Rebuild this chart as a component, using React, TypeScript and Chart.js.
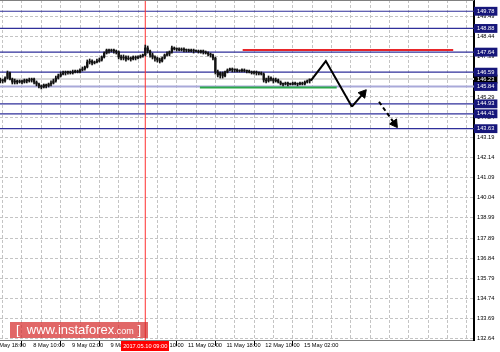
import React, { useEffect, useRef } from "react";
import { Chart, registerables } from "chart.js";

Chart.register(...registerables);

// ---- axis ranges (bar index = hours since 7 May 18:00) ----
const X_MIN = 2.9;
const X_MAX = 199.0;
const Y_MIN = 132.56;
const Y_MAX = 150.37;

// ---- H1 candles, first bar index ----
const FIRST_BAR = 3;
const opens = [
  146.13, 146.18, 146.13, 146.28, 146.55, 146.23, 146.07, 146.13, 146.07, 146.13,
  146.07, 146.18, 146.13, 146.18, 146.23, 146.07, 145.97, 145.87, 145.81, 145.92,
  145.87, 145.97, 146.02, 146.13, 146.28, 146.39, 146.49, 146.55, 146.57, 146.60,
  146.55, 146.60, 146.65, 146.60, 146.70, 146.76, 146.86, 147.12, 147.17, 147.07,
  147.12, 147.17, 147.23, 147.38, 147.59, 147.75, 147.70, 147.75, 147.70, 147.65,
  147.38, 147.33, 147.38, 147.28, 147.33, 147.28, 147.38, 147.33, 147.38, 147.44,
  147.49, 147.86, 147.70, 147.49, 147.38, 147.33, 147.23, 147.17, 147.33, 147.49,
  147.54, 147.65, 147.86, 147.80, 147.79, 147.75, 147.80, 147.75, 147.74, 147.70,
  147.75, 147.70, 147.69, 147.65, 147.70, 147.65, 147.59, 147.54, 147.49, 147.33,
  146.60, 146.44, 146.55, 146.39, 146.60, 146.70, 146.76, 146.70, 146.71, 146.65,
  146.66, 146.70, 146.65, 146.64, 146.60, 146.55, 146.60, 146.55, 146.54, 146.49,
  146.18, 146.13, 146.28, 146.23, 146.13, 146.18, 146.07, 145.97, 145.96, 146.02,
  145.97, 145.95, 146.02, 145.97, 145.96, 146.02, 145.97, 146.07, 146.13,
];
const highs = [
  146.28, 146.23, 146.34, 146.65, 146.60, 146.28, 146.23, 146.18, 146.18, 146.18,
  146.23, 146.23, 146.28, 146.28, 146.28, 146.13, 146.02, 145.92, 145.97, 145.97,
  146.02, 146.13, 146.23, 146.39, 146.49, 146.60, 146.65, 146.65, 146.65, 146.65,
  146.70, 146.70, 146.70, 146.76, 146.86, 146.91, 147.23, 147.28, 147.23, 147.17,
  147.28, 147.33, 147.44, 147.65, 147.80, 147.80, 147.80, 147.80, 147.75, 147.70,
  147.49, 147.49, 147.44, 147.44, 147.38, 147.44, 147.44, 147.44, 147.49, 147.54,
  148.01, 147.96, 147.75, 147.59, 147.44, 147.38, 147.33, 147.38, 147.54, 147.65,
  147.70, 147.96, 147.91, 147.86, 147.86, 147.86, 147.86, 147.80, 147.80, 147.80,
  147.80, 147.75, 147.75, 147.75, 147.75, 147.70, 147.65, 147.59, 147.54, 147.38,
  146.70, 146.60, 146.60, 146.65, 146.76, 146.81, 146.81, 146.76, 146.76, 146.70,
  146.76, 146.76, 146.70, 146.70, 146.65, 146.65, 146.65, 146.60, 146.60, 146.55,
  146.28, 146.39, 146.34, 146.28, 146.28, 146.23, 146.13, 146.02, 146.07, 146.07,
  146.02, 146.07, 146.07, 146.02, 146.07, 146.07, 146.13, 146.18, 146.23,
];
const lows = [
  146.02, 146.02, 146.07, 146.23, 146.18, 145.97, 145.97, 145.97, 146.02, 145.97,
  146.02, 146.02, 146.07, 146.07, 145.97, 145.87, 145.76, 145.71, 145.76, 145.76,
  145.81, 145.87, 145.97, 146.07, 146.23, 146.34, 146.44, 146.44, 146.49, 146.49,
  146.49, 146.55, 146.55, 146.55, 146.65, 146.70, 146.81, 147.02, 146.97, 147.02,
  147.07, 147.12, 147.17, 147.33, 147.54, 147.59, 147.65, 147.59, 147.54, 147.28,
  147.23, 147.23, 147.17, 147.23, 147.17, 147.23, 147.23, 147.28, 147.33, 147.38,
  147.44, 147.59, 147.38, 147.28, 147.17, 147.12, 147.07, 147.12, 147.28, 147.44,
  147.44, 147.59, 147.75, 147.70, 147.70, 147.70, 147.65, 147.65, 147.65, 147.65,
  147.59, 147.65, 147.59, 147.59, 147.54, 147.54, 147.44, 147.38, 147.23, 146.49,
  146.34, 146.28, 146.28, 146.34, 146.55, 146.65, 146.60, 146.60, 146.60, 146.60,
  146.60, 146.60, 146.55, 146.55, 146.49, 146.49, 146.44, 146.44, 146.44, 146.07,
  146.02, 146.07, 146.13, 146.02, 146.07, 146.02, 145.92, 145.87, 145.92, 145.87,
  145.92, 145.92, 145.92, 145.87, 145.92, 145.92, 145.92, 146.02, 146.02,
];
const closes = [
  146.18, 146.13, 146.28, 146.55, 146.23, 146.07, 146.13, 146.07, 146.13, 146.07,
  146.18, 146.13, 146.18, 146.23, 146.07, 145.97, 145.87, 145.81, 145.92, 145.87,
  145.97, 146.02, 146.13, 146.28, 146.39, 146.49, 146.55, 146.57, 146.60, 146.55,
  146.60, 146.65, 146.60, 146.70, 146.76, 146.86, 147.12, 147.17, 147.07, 147.12,
  147.17, 147.23, 147.38, 147.59, 147.75, 147.70, 147.75, 147.70, 147.65, 147.38,
  147.33, 147.38, 147.28, 147.33, 147.28, 147.38, 147.33, 147.38, 147.44, 147.49,
  147.86, 147.70, 147.49, 147.38, 147.33, 147.23, 147.17, 147.33, 147.49, 147.54,
  147.65, 147.86, 147.80, 147.79, 147.75, 147.80, 147.75, 147.74, 147.70, 147.75,
  147.70, 147.69, 147.65, 147.70, 147.65, 147.59, 147.54, 147.49, 147.33, 146.60,
  146.44, 146.55, 146.39, 146.60, 146.70, 146.76, 146.70, 146.71, 146.65, 146.66,
  146.70, 146.65, 146.64, 146.60, 146.55, 146.60, 146.55, 146.54, 146.49, 146.18,
  146.13, 146.28, 146.23, 146.13, 146.18, 146.07, 145.97, 145.96, 146.02, 145.97,
  145.95, 146.02, 145.97, 145.96, 146.02, 145.97, 146.07, 146.13, 146.23,
];

// ---- time axis ----
const gridHours = [8, 16, 24, 32, 40, 48, 56, 64, 72, 80, 88, 96, 104, 112, 120, 128, 136, 144, 152, 160, 168, 176, 184, 192];
const labelHours = [0, 16, 32, 48, 64, 80, 96, 112, 128];
const labelTexts = ["7 May 18:00", "8 May 10:00", "9 May 02:00", "9 May 18:00", "10 May 10:00", "11 May 02:00", "11 May 18:00", "12 May 10:00", "15 May 02:00"];

// ---- price axis ----
const priceTicks = [149.49, 148.44, 147.39, 145.29, 144.24, 143.19, 142.14, 141.09, 140.04, 138.99, 137.89, 136.84, 135.79, 134.74, 133.69, 132.64];
const levels = [149.78, 148.88, 147.64, 146.59, 145.84, 144.93, 144.41, 143.63];
const softLevel = 145.84;
const currentPrice = 146.23;

// ---- analysis drawings ----
const resistance = { price: 147.75, from: 103.3, to: 190.4 };
const support = { price: 145.78, from: 85.6, to: 142.2 };
const markerHour = 63;
const markerText = "2017.05.10 09:00";
const pathX = [131.5, 137.7, 148.5];
const pathY = [146.15, 147.17, 144.78];
const arrowUpX = [148.5, 153.1];
const arrowUpY = [144.78, 145.47];
const arrowDownX = [159.7, 166.1];
const arrowDownY = [145.04, 143.9];

const FONT = "'Liberation Sans', Arial, sans-serif";
const LEVEL_LINE = "#2f2f9a";
const LEVEL_BOX = "#16167a";

const near = (a: number, b: number) => Math.abs(a - b) < 1e-6;
const isLevel = (v: number) => levels.some((l) => near(l, v));

const arrowRotation = (xs: number[], ys: number[]) => (ctx: any) => {
  const sx = ctx.chart.scales.x;
  const sy = ctx.chart.scales.y;
  const dx = sx.getPixelForValue(xs[1]) - sx.getPixelForValue(xs[0]);
  const dy = sy.getPixelForValue(ys[1]) - sy.getPixelForValue(ys[0]);
  return (Math.atan2(dx, -dy) * 180) / Math.PI;
};

const overlayPlugin = {
  id: "overlay",
  afterDraw(chart: any) {
    const { ctx, scales, chartArea } = chart;
    const sx = scales.x;
    ctx.save();
    ctx.strokeStyle = "#808080";
    ctx.lineWidth = 1;
    ctx.beginPath();
    ctx.moveTo(chartArea.left, 0.5);
    ctx.lineTo(chartArea.right, 0.5);
    ctx.stroke();
    ctx.font = `5.7px ${FONT}`;
    ctx.textBaseline = "middle";
    const x0 = sx.getPixelForValue(labelHours[0]);
    ctx.fillStyle = "#000";
    ctx.textAlign = "left";
    ctx.fillText(" " + labelTexts[0], x0, chartArea.bottom + 5.5);
    const mx = sx.getPixelForValue(markerHour);
    const w = ctx.measureText(markerText).width + 4;
    ctx.fillStyle = "#ff0000";
    ctx.fillRect(Math.round(mx - w / 2), chartArea.bottom + 1, Math.round(w), 10);
    ctx.fillStyle = "#ffffff";
    ctx.textAlign = "center";
    ctx.fillText(markerText, mx, chartArea.bottom + 6);
    ctx.restore();
  },
};

export default function App() {
  const ref = useRef<HTMLCanvasElement | null>(null);

  useEffect(() => {
    if (!ref.current) return;
    const candles = opens.map((o, i) => ({
      x: FIRST_BAR + i,
      o,
      h: highs[i],
      l: lows[i],
      c: closes[i],
    }));

    const hline = (y: number, from = X_MIN, to = X_MAX) => [
      { x: from, y },
      { x: to, y },
    ];

    const datasets: any[] = [];
    datasets.push({
      type: "line",
      data: hline(currentPrice),
      borderColor: "#d9d9d9",
      borderWidth: 2,
      pointRadius: 0,
      order: 20,
    });
    levels.forEach((lv) => {
      const soft = near(lv, softLevel);
      datasets.push({
        type: "line",
        data: hline(lv),
        borderColor: soft ? "#a9a9d9" : LEVEL_LINE,
        borderWidth: soft ? 2 : 1.2,
        pointRadius: 0,
        order: 15,
      });
    });
    datasets.push({
      type: "line",
      data: hline(resistance.price, resistance.from, resistance.to),
      borderColor: "#e8262a",
      borderWidth: 2,
      pointRadius: 0,
      order: 10,
    });
    datasets.push({
      type: "line",
      data: hline(support.price, support.from, support.to),
      borderColor: "#2aa84a",
      borderWidth: 2,
      pointRadius: 0,
      order: 10,
    });
    datasets.push({
      type: "line",
      data: [
        { x: markerHour, y: Y_MIN },
        { x: markerHour, y: Y_MAX },
      ],
      borderColor: "#ff3030",
      borderWidth: 1,
      pointRadius: 0,
      order: 9,
    });
    datasets.push({
      type: "bar",
      data: candles.map((k) => ({ x: k.x, y: [k.l, k.h] })),
      backgroundColor: "#111",
      barThickness: 1,
      grouped: false,
      minBarLength: 1,
      order: 6,
    });
    datasets.push({
      type: "bar",
      data: candles.map((k) => ({ x: k.x, y: [Math.min(k.o, k.c), Math.max(k.o, k.c)] })),
      backgroundColor: "#111",
      barThickness: 1.6,
      grouped: false,
      minBarLength: 1,
      order: 5,
    });
    datasets.push({
      type: "line",
      data: pathX.map((x, i) => ({ x, y: pathY[i] })),
      borderColor: "#000",
      borderWidth: 2,
      pointRadius: 0,
      order: 1,
    });
    datasets.push({
      type: "line",
      data: arrowUpX.map((x, i) => ({ x, y: arrowUpY[i] })),
      borderColor: "#000",
      backgroundColor: "#000",
      borderWidth: 2,
      pointStyle: "triangle",
      pointRadius: (c: any) => (c.dataIndex === 1 ? 5 : 0),
      pointBorderWidth: 1,
      pointRotation: arrowRotation(arrowUpX, arrowUpY),
      order: 1,
    });
    datasets.push({
      type: "line",
      data: arrowDownX.map((x, i) => ({ x, y: arrowDownY[i] })),
      borderColor: "#000",
      backgroundColor: "#000",
      borderWidth: 2,
      borderDash: [4, 3],
      pointStyle: "triangle",
      pointRadius: (c: any) => (c.dataIndex === 1 ? 5 : 0),
      pointBorderWidth: 1,
      pointRotation: arrowRotation(arrowDownX, arrowDownY),
      order: 1,
    });

    const chart = new Chart(ref.current, {
      type: "line",
      data: { datasets },
      plugins: [overlayPlugin],
      options: {
        animation: false,
        responsive: false,
        devicePixelRatio: 1,
        layout: { padding: 0, autoPadding: false },
        plugins: { legend: { display: false }, tooltip: { enabled: false } },
        events: [],
        scales: {
          x: {
            type: "linear",
            min: X_MIN,
            max: X_MAX,
            offset: false,
            afterBuildTicks: (s: any) => {
              s.ticks = gridHours.map((v) => ({ value: v }));
            },
            afterFit: (s: any) => {
              s.height = 12;
              s.paddingLeft = 0;
              s.paddingRight = 0;
              s.paddingTop = 0;
              s.paddingBottom = 0;
            },
            ticks: {
              autoSkip: false,
              maxRotation: 0,
              minRotation: 0,
              align: "start",
              padding: -4,
              color: "#000",
              font: { family: FONT, size: 5.7 },
              callback: (v: any) => {
                const k = labelHours.indexOf(v);
                return k >= 0 ? " " + labelTexts[k] : "";
              },
            },
            grid: {
              color: "#c4c4c4",
              lineWidth: 1,
              drawTicks: true,
              tickLength: 6,
              tickBorderDash: [],
              tickColor: (c: any) => (c.tick && labelHours.indexOf(c.tick.value) >= 0 ? "#000" : "rgba(0,0,0,0)"),
            },
            border: { display: true, color: "#808080", width: 1, dash: [3, 2] },
          },
          y: {
            type: "linear",
            position: "right",
            min: Y_MIN,
            max: Y_MAX,
            afterBuildTicks: (s: any) => {
              s.ticks = [
                ...priceTicks.map((v) => ({ value: v })),
                { value: currentPrice },
                ...levels.map((v) => ({ value: v })),
              ];
            },
            afterFit: (s: any) => {
              s.width = 26;
              s.paddingLeft = 0;
              s.paddingRight = 0;
              s.paddingTop = 0;
              s.paddingBottom = 0;
            },
            ticks: {
              autoSkip: false,
              padding: 3,
              font: { family: FONT, size: 5.7 },
              callback: (v: any) => Number(v).toFixed(2),
              color: (c: any) => (c.tick && (isLevel(c.tick.value) || near(c.tick.value, currentPrice)) ? "#fff" : "#000"),
              showLabelBackdrop: (c: any) => !!(c.tick && (isLevel(c.tick.value) || near(c.tick.value, currentPrice))),
              backdropColor: (c: any) => (c.tick && near(c.tick.value, currentPrice) ? "#000" : LEVEL_BOX),
              backdropPadding: { left: 3, right: 3, top: 1, bottom: 1 },
            },
            grid: {
              color: (c: any) => (c.tick && priceTicks.some((p) => near(p, c.tick.value)) ? "#c4c4c4" : "rgba(0,0,0,0)"),
              lineWidth: 1,
              drawTicks: false,
            },
            border: { display: true, color: "#000", width: 2, dash: [3, 2] },
          },
        },
      } as any,
    });
    return () => chart.destroy();
  }, []);

  return (
    <div style={{ position: "absolute", left: 0, top: 0, width: 500, height: 352, background: "#fff", overflow: "hidden" }}>
      <canvas ref={ref} width={500} height={352} style={{ width: 500, height: 352, display: "block" }} />
      <div
        style={{
          position: "absolute",
          left: 10,
          top: 322,
          width: 138,
          height: 16,
          background: "rgba(214, 44, 44, 0.72)",
          color: "#fff",
          fontFamily: FONT,
          whiteSpace: "nowrap",
          display: "flex",
          alignItems: "center",
          boxSizing: "border-box",
          paddingLeft: 6,
          lineHeight: "16px",
        }}
      >
        <span style={{ fontSize: 13 }}>[&nbsp; www.instaforex</span>
        <span style={{ fontSize: 9, marginTop: 2 }}>.com</span>
        <span style={{ fontSize: 13 }}>&nbsp;]</span>
      </div>
    </div>
  );
}
